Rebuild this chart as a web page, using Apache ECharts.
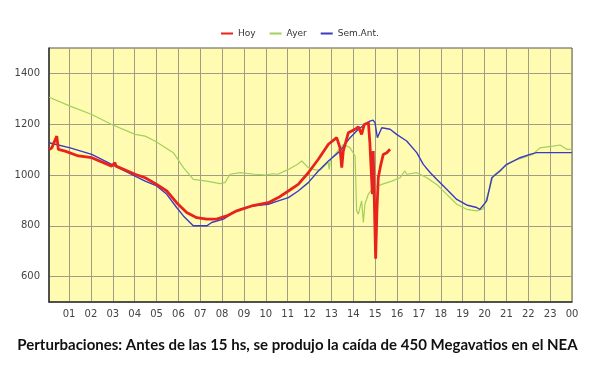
<!DOCTYPE html>
<html>
<head>
<meta charset="utf-8">
<script src="https://cdn.jsdelivr.net/npm/echarts@6/dist/echarts.min.js"></script>
<style>
  html, body { margin: 0; padding: 0; background: #fff; }
  #chart { width: 595px; height: 378px; }
</style>
</head>
<body>
<div id="chart"></div>
<script>
// horas (x) y MW (y)
var hourTicks = [1, 2, 3, 4, 5, 6, 7, 8, 9, 10, 11, 12, 13, 14, 15, 16, 17, 18, 19, 20, 21, 22, 23, 24]
var mwTicks = [600, 800, 1000, 1200, 1400]

var hoyHours = [0.09, 0.21, 0.44, 0.51, 0.82, 1.43, 2.04, 2.95, 3.10, 3.15, 4.02, 4.48, 5.01, 5.47, 5.92, 6.38, 6.84, 7.30, 7.75, 8.21, 8.67, 9.35, 10.11, 10.57, 11.03, 11.48, 11.94, 12.40, 12.86, 13.24, 13.39, 13.47, 13.54, 13.77, 14.08, 14.23, 14.38, 14.50, 14.69, 14.76, 14.87, 14.91, 15.02, 15.08, 15.14, 15.26, 15.37, 15.53, 15.68]
var hoyValues = [1100, 1107, 1153, 1101, 1094, 1075, 1068, 1035, 1048, 1035, 1003, 989, 963, 937, 891, 852, 832, 826, 826, 839, 859, 878, 891, 911, 937, 963, 1009, 1062, 1121, 1147, 1107, 1029, 1094, 1166, 1180, 1190, 1160, 1199, 1206, 1122, 924, 1094, 670, 859, 989, 1042, 1081, 1088, 1101]

var ayerHours = [0.09, 1.05, 2.04, 2.95, 4.02, 4.48, 4.93, 5.77, 6.23, 6.68, 7.30, 7.90, 8.13, 8.36, 8.82, 9.50, 10.00, 10.30, 10.55, 11.03, 11.47, 11.64, 11.93, 12.25, 12.50, 12.85, 12.90, 12.95, 13.54, 13.85, 14.08, 14.15, 14.23, 14.38, 14.46, 14.53, 14.69, 14.91, 15.30, 15.76, 16.13, 16.36, 16.44, 16.90, 17.36, 17.81, 18.27, 18.73, 19.18, 19.64, 19.93, 20.25, 20.39, 20.84, 21.30, 21.76, 22.21, 22.53, 23.13, 23.45, 23.76, 23.99]
var ayerValues = [1306, 1271, 1238, 1199, 1160, 1153, 1134, 1088, 1029, 983, 976, 966, 970, 1003, 1009, 1003, 1000, 1005, 1003, 1022, 1043, 1055, 1030, 1020, 1020, 1050, 1022, 1060, 1121, 1107, 1075, 859, 846, 898, 813, 886, 925, 950, 963, 976, 989, 1016, 1003, 1009, 989, 963, 924, 885, 865, 859, 866, 950, 996, 1029, 1055, 1068, 1081, 1107, 1114, 1118, 1101, 1101]

var semHours = [0.09, 1.05, 2.04, 2.95, 4.02, 4.48, 5.01, 5.47, 5.92, 6.23, 6.68, 7.30, 7.52, 8.06, 8.51, 8.82, 9.35, 10.11, 10.57, 11.03, 11.48, 11.94, 12.40, 12.86, 13.39, 13.85, 14.23, 14.53, 14.76, 14.90, 14.99, 15.10, 15.30, 15.68, 15.98, 16.44, 16.90, 17.20, 17.51, 17.81, 18.27, 18.73, 19.18, 19.64, 19.79, 20.10, 20.33, 20.71, 21.01, 21.32, 21.62, 22.08, 22.38, 23.99]
var semValues = [1127, 1107, 1081, 1042, 996, 976, 957, 924, 872, 839, 800, 800, 813, 826, 852, 865, 878, 885, 898, 911, 937, 970, 1016, 1055, 1094, 1147, 1180, 1199, 1212, 1216, 1206, 1147, 1186, 1180, 1160, 1134, 1088, 1042, 1010, 983, 944, 904, 882, 872, 865, 898, 989, 1016, 1042, 1055, 1068, 1081, 1088, 1088]

function pairs(xs, ys) {
  var out = []
  for (var i = 0; i < xs.length; i++) {
    out.push([xs[i], ys[i]])
  }
  return out
}

var chart = echarts.init(document.getElementById('chart'))
chart.setOption({
  backgroundColor: '#ffffff',
  animation: false,
  title: {
    text: 'Perturbaciones: Antes de las 15 hs, se produjo la caída de 450 Megavatios en el NEA',
    left: 'center',
    top: 333,
    textStyle: {
      fontFamily: 'Lato',
      fontWeight: 'bold',
      fontSize: 15,
      color: '#111'
    }
  },
  legend: {
    left: 216,
    top: 24,
    icon: 'rect',
    itemWidth: 12,
    itemHeight: 2,
    itemGap: 14,
    textStyle: { fontFamily: 'DejaVu Sans', fontSize: 9, color: '#333' },
    data: ['Hoy', 'Ayer', 'Sem.Ant.']
  },
  grid: {
    left: 49,
    right: 23,
    top: 48,
    bottom: 76,
    show: true,
    backgroundColor: '#fffcb2',
    borderColor: '#555',
    borderWidth: 1
  },
  xAxis: {
    type: 'value',
    min: 1 / 12,
    max: 24,
    axisLine: { show: true, lineStyle: { color: '#333', width: 1.5 } },
    axisTick: { show: false, customValues: hourTicks },
    axisLabel: {
      customValues: hourTicks,
      color: '#444',
      fontFamily: 'DejaVu Sans',
      fontSize: 10,
      margin: 7,
      formatter: function (v) {
        var h = Math.round(v) % 24
        return (h < 10 ? '0' : '') + h
      }
    },
    splitLine: { show: true, lineStyle: { color: '#9f9d86', width: 1 } }
  },
  yAxis: {
    type: 'value',
    min: 500,
    max: 1500,
    axisLine: { show: true, lineStyle: { color: '#333', width: 1.5 } },
    axisTick: { show: false, customValues: mwTicks },
    axisLabel: {
      customValues: mwTicks,
      color: '#444',
      fontFamily: 'DejaVu Sans',
      fontSize: 10,
      margin: 9,
      formatter: function (v) {
        return String(v)
      }
    },
    splitLine: { show: true, lineStyle: { color: '#9f9d86', width: 1 } }
  },
  series: [
    {
      name: 'Ayer',
      type: 'line',
      symbol: 'none',
      color: '#a2d05a',
      lineStyle: { width: 1.2 },
      data: pairs(ayerHours, ayerValues),
      z: 2
    },
    {
      name: 'Sem.Ant.',
      type: 'line',
      symbol: 'none',
      color: '#3a3ac4',
      lineStyle: { width: 1.4 },
      data: pairs(semHours, semValues),
      z: 3
    },
    {
      name: 'Hoy',
      type: 'line',
      symbol: 'none',
      color: '#e8231c',
      lineStyle: { width: 2.8 },
      data: pairs(hoyHours, hoyValues),
      z: 4
    }
  ]
})
</script>
</body>
</html>
